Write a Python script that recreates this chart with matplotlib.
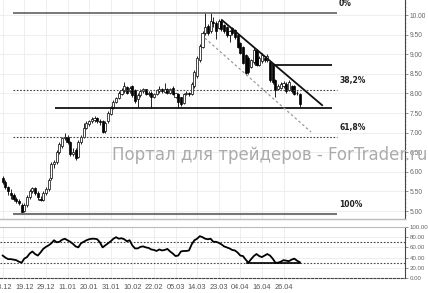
import matplotlib
matplotlib.use('Agg')
import matplotlib.pyplot as plt
import numpy as np
from matplotlib.ticker import FormatStrFormatter, MultipleLocator

# ---- data ----
date_labels = ["08.12", "19.12", "29.12", "11.01", "20.01", "31.01", "10.02",
               "22.02", "05.03", "14.03", "23.03", "04.04", "16.04", "26.04"]

opens = [5.85, 5.75, 5.60, 5.45, 5.40, 5.30, 5.25, 5.15, 5.00, 5.15,
         5.35, 5.50, 5.58, 5.45, 5.30, 5.28, 5.45, 5.55, 5.85, 6.20,
         6.25, 6.50, 6.65, 6.85, 6.90, 6.75, 6.45, 6.55, 6.38, 6.75,
         6.90, 7.12, 7.22, 7.30, 7.32, 7.36, 7.30, 7.30, 7.05, 7.30,
         7.48, 7.63, 7.78, 7.88, 7.98, 8.05, 8.16, 8.05, 8.20, 8.09,
         7.85, 7.96, 8.05, 8.10, 7.98, 8.02, 7.92, 7.98, 8.06, 8.12,
         8.04, 8.12, 8.02, 8.15, 7.92, 7.98, 7.90, 7.75, 7.98, 8.00,
         7.98, 8.20, 8.45, 8.85, 9.18, 9.55, 9.72, 9.60, 9.82, 9.80,
         9.68, 9.85, 9.74, 9.70, 9.50, 9.68, 9.62, 9.49, 9.28, 9.18,
         8.98, 8.90, 8.67, 8.80, 9.10, 8.72, 8.82, 8.90, 8.85, 8.80,
         8.72, 8.34, 8.12, 8.15, 8.20, 8.25, 8.08, 8.20, 8.20, 8.00,
         7.98]
closes = [5.75, 5.60, 5.50, 5.40, 5.30, 5.25, 5.20, 4.98, 5.15, 5.35,
          5.50, 5.58, 5.45, 5.35, 5.28, 5.45, 5.55, 5.80, 6.20, 6.25,
          6.50, 6.70, 6.85, 6.90, 6.75, 6.45, 6.50, 6.35, 6.75, 6.90,
          7.12, 7.25, 7.30, 7.35, 7.38, 7.30, 7.28, 7.02, 7.25, 7.50,
          7.62, 7.78, 7.88, 8.00, 8.09, 8.20, 8.02, 8.15, 7.96, 7.80,
          7.95, 8.05, 8.10, 7.98, 8.02, 7.90, 7.98, 8.08, 8.12, 8.05,
          8.12, 8.02, 8.10, 7.98, 8.00, 7.78, 7.72, 7.98, 8.02, 7.98,
          8.25, 8.55, 8.90, 9.20, 9.55, 9.70, 9.55, 9.85, 9.80, 9.58,
          9.85, 9.65, 9.60, 9.50, 9.58, 9.55, 9.45, 9.18, 9.03, 8.78,
          8.52, 8.55, 8.85, 9.10, 8.72, 8.90, 8.98, 8.85, 8.95, 8.34,
          8.28, 8.09, 8.20, 8.25, 8.26, 8.05, 8.28, 8.05, 7.98, 8.02,
          7.72]
highs = [5.90, 5.80, 5.65, 5.55, 5.45, 5.35, 5.30, 5.20, 5.20, 5.40,
         5.55, 5.62, 5.60, 5.50, 5.38, 5.50, 5.60, 5.85, 6.25, 6.30,
         6.55, 6.75, 6.90, 7.00, 6.95, 6.78, 6.60, 6.60, 6.80, 6.95,
         7.25, 7.30, 7.33, 7.40, 7.42, 7.40, 7.35, 7.32, 7.30, 7.55,
         7.68, 7.82, 7.92, 8.05, 8.15, 8.29, 8.20, 8.20, 8.22, 8.12,
         8.00, 8.10, 8.15, 8.12, 8.06, 8.05, 8.02, 8.12, 8.18, 8.15,
         8.26, 8.15, 8.14, 8.18, 8.02, 8.00, 7.92, 8.00, 8.05, 8.04,
         8.28, 8.60, 8.95, 9.25, 9.60, 10.05, 9.78, 10.05, 9.95, 9.85,
         9.90, 9.90, 9.78, 9.72, 9.62, 9.70, 9.65, 9.52, 9.30, 9.20,
         9.00, 8.95, 8.88, 9.18, 9.12, 8.95, 9.02, 8.95, 9.00, 8.82,
         8.75, 8.36, 8.25, 8.30, 8.32, 8.28, 8.35, 8.22, 8.22, 8.05,
         8.00]
lows = [5.70, 5.55, 5.40, 5.30, 5.25, 5.20, 5.15, 4.93, 4.97, 5.10,
        5.30, 5.45, 5.40, 5.28, 5.25, 5.25, 5.40, 5.50, 5.80, 6.10,
        6.20, 6.45, 6.60, 6.80, 6.70, 6.40, 6.40, 6.30, 6.35, 6.70,
        6.85, 7.10, 7.18, 7.25, 7.28, 7.25, 7.20, 6.98, 7.00, 7.25,
        7.45, 7.60, 7.75, 7.85, 7.95, 8.00, 7.98, 8.00, 7.92, 7.75,
        7.63, 7.90, 8.00, 7.95, 7.93, 7.63, 7.88, 7.95, 8.02, 8.00,
        8.00, 7.98, 7.98, 7.95, 7.88, 7.63, 7.68, 7.72, 7.95, 7.94,
        7.95, 8.15, 8.40, 8.80, 9.15, 9.50, 9.50, 9.55, 9.70, 9.40,
        9.65, 9.60, 9.55, 9.45, 9.31, 9.50, 9.40, 9.15, 9.00, 8.75,
        8.48, 8.50, 8.65, 8.75, 8.70, 8.70, 8.78, 8.80, 8.80, 8.30,
        8.25, 7.90, 8.08, 8.10, 8.15, 8.02, 8.05, 8.00, 7.95, 7.95,
        7.65]

rsi = [44, 40, 37, 37, 36, 35, 32, 30, 38, 41,
       48, 52, 47, 44, 50, 57, 61, 64, 68, 74,
       70, 71, 75, 77, 74, 71, 67, 62, 60, 68,
       71, 74, 76, 77, 77, 76, 70, 60, 64, 68,
       72, 77, 80, 77, 78, 76, 72, 74, 64, 58,
       58, 61, 62, 60, 59, 56, 55, 53, 56, 54,
       55, 57, 52, 48, 43, 44, 52, 53, 53, 54,
       66, 74, 77, 82, 80, 77, 76, 77, 71, 71,
       69, 66, 62, 60, 58, 55, 54, 50, 44, 43,
       36, 30, 37, 43, 47, 43, 41, 44, 47, 44,
       38, 30, 30, 32, 35, 34, 33, 36, 38, 34,
       31]

fib_levels = [10.05, 8.094, 6.886, 4.93]
fib_labels = ["0%", "38,2%", "61,8%", "100%"]
fib_styles = ["-", ":", ":", "-"]
fib_span = [3.8, 123.8]
support_level = 7.63
support_span = [19.4, 122.0]
resist_level = 8.72
resist_span = [99.7, 122.0]
trend_x = [81.2, 118.3]
trend_y = [9.87, 7.70]
channel_x = [74.9, 114.2]
channel_y = [9.41, 7.015]
rsi_levels = [70, 30]
rsi_support_x = [90.5, 110.0]
rsi_support_y = [30, 30]

# ---- figure ----
W, H = 428, 293
fig = plt.figure(figsize=(W / 100, H / 100), dpi=100)
fig.patch.set_facecolor('white')
ax = fig.add_axes([0, 74 / H, 405 / W, 219 / H])
ax2 = fig.add_axes([0, 15 / H, 405 / W, 51 / H])

n = len(closes)
idx = np.arange(n)
xlim = (-1, 149)
tick_pos = np.arange(0, 8 * len(date_labels), 8)
small_font = 'Liberation Sans'

# grid
for a in (ax, ax2):
    a.set_xlim(*xlim)
    a.set_xticks(tick_pos)
    a.grid(True, color='#ebebeb', lw=0.6, ls='-')
    a.set_axisbelow(True)
    a.yaxis.tick_right()
    a.spines['left'].set_visible(False)
    a.spines['right'].set_color('#444444')
    a.spines['right'].set_linewidth(0.8)
    a.tick_params(axis='y', labelsize=4.8, labelcolor='#666666', color='#666666',
                  length=2, width=0.5, pad=1.5)
    a.tick_params(axis='x', length=0)

# main panel
ax.set_ylim(10 - 204 / 39.2, 10 + 15 / 39.2)
ax.set_yticks(np.arange(5.0, 10.01, 0.5))
ax.yaxis.set_major_formatter(FormatStrFormatter('%.2f'))
ax.yaxis.set_minor_locator(MultipleLocator(0.1))
ax.tick_params(axis='y', which='minor', length=1, width=0.4, color='#888888', right=True, left=False)
ax.set_xticklabels([])
ax.spines['top'].set_visible(False)
ax.spines['bottom'].set_color('#bbbbbb')
ax.spines['bottom'].set_linewidth(1.0)
for t in ax.get_yticklabels():
    t.set_fontfamily(small_font)

# candles
o = np.array(opens); c = np.array(closes)
hi = np.array(highs); lo = np.array(lows)
up = c >= o
ax.vlines(idx, lo, hi, color='black', lw=0.6, zorder=3)
bottoms = np.minimum(o, c)
heights = np.maximum(np.abs(c - o), 0.02)
ax.bar(idx[up], heights[up], bottom=bottoms[up], width=0.75, facecolor='white',
       edgecolor='black', lw=0.5, zorder=4)
ax.bar(idx[~up], heights[~up], bottom=bottoms[~up], width=0.75, facecolor='black',
       edgecolor='black', lw=0.5, zorder=4)

# fib levels
for lvl, lab, st in zip(fib_levels, fib_labels, fib_styles):
    if st == '-':
        ax.hlines(lvl, fib_span[0], fib_span[1], color='#555555' if lab == '0%' else '#777777',
                  lw=1.1 if lab == '0%' else 1.5, zorder=5)
    else:
        ax.hlines(lvl, fib_span[0], fib_span[1], color='#444444', lw=0.8,
                  linestyles=(0, (1.5, 1.5)), zorder=5)
    ax.text(fib_span[1] + 0.8, lvl + 0.12, lab, fontsize=5.5, fontweight='bold',
            color='#222222', ha='left', va='bottom', zorder=6)

ax.hlines(support_level, support_span[0], support_span[1], color='#111111', lw=1.3, zorder=5)
ax.hlines(resist_level, resist_span[0], resist_span[1], color='#111111', lw=1.3, zorder=5)
ax.plot(trend_x, trend_y, color='#111111', lw=1.3, zorder=5)
ax.plot(channel_x, channel_y, color='#999999', lw=0.9, ls=(0, (2, 2)), zorder=5)

# RSI panel
ax2.set_ylim(0, 100)
ax2.set_yticks(np.arange(0, 101, 20))
ax2.yaxis.set_major_formatter(FormatStrFormatter('%.2f'))
ax2.tick_params(axis='y', labelsize=4.4, pad=1.2)
ax2.spines['top'].set_color('#bbbbbb')
ax2.spines['bottom'].set_color('#444444')
ax2.spines['bottom'].set_linestyle((0, (2, 1.5)))
ax2.spines['bottom'].set_linewidth(0.8)
ax2.set_xticklabels(date_labels, fontsize=5.3, color='#555555', fontfamily=small_font)
ax2.tick_params(axis='x', pad=4)
for t in ax2.get_yticklabels():
    t.set_fontfamily(small_font)
for lvl in rsi_levels:
    ax2.axhline(lvl, color='#444444', lw=0.8, ls=(0, (1.5, 1.5)), zorder=2)
ax2.plot(idx, rsi, color='black', lw=1.3, zorder=4)
ax2.plot(rsi_support_x, rsi_support_y, color='black', lw=1.2, zorder=4)

# watermark
fig.text(112 / W, 1 - 155 / H, "Портал для трейдеров - ForTrader.ru", fontsize=12,
         color='#ababab', ha='left', va='center', zorder=20)

fig.savefig('out.png', dpi=100, facecolor='white')
